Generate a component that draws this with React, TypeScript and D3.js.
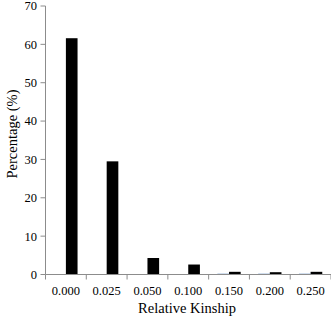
import React from "react";
import * as d3 from "d3";

const categories = ["0.000", "0.025", "0.050", "0.100", "0.150", "0.200", "0.250"];
const seriesBlue = [0, 0, 0, 0, 0.2, 0.2, 0.2];
const seriesBlack = [61.6, 29.5, 4.3, 2.6, 0.7, 0.6, 0.7];
const yTicks = [0, 10, 20, 30, 40, 50, 60, 70];

export default function App() {
  const W = 331, H = 319;
  const left = 45.5, right = 331, top = 6, bottom = 274.5;
  const x = d3.scaleBand<string>().domain(categories).range([left, right]).paddingInner(0).paddingOuter(0);
  const y = d3.scaleLinear().domain([0, 70]).range([bottom, top]);
  const bw = x.bandwidth() / 3.5;
  const axisColor = "#8c8c8c";
  const font = "'Liberation Serif', 'Times New Roman', serif";
  const tickEdges = [...categories.map((c) => x(c)!), right];
  return (
    <svg width={W} height={H} style={{ position: "absolute", left: 0, top: 0, background: "#fff" }}>
      {categories.map((c, i) => {
        const cx = x(c)! + x.bandwidth() / 2;
        return (
          <g key={c}>
            {seriesBlue[i] > 0 && (
              <rect x={cx - bw} y={y(seriesBlue[i])} width={bw} height={bottom - y(seriesBlue[i])} fill="#4f81bd" />
            )}
            <rect x={cx} y={y(seriesBlack[i])} width={bw} height={bottom - y(seriesBlack[i])} fill="#000" />
          </g>
        );
      })}
      <line x1={left} x2={left} y1={top} y2={bottom} stroke={axisColor} strokeWidth={1} />
      <line x1={left} x2={right} y1={bottom} y2={bottom} stroke={axisColor} strokeWidth={1} />
      {yTicks.map((t) => (
        <g key={t}>
          <line x1={left - 5} x2={left} y1={y(t)} y2={y(t)} stroke={axisColor} />
          <text x={37} y={y(t)} dy="0.35em" textAnchor="end" fontFamily={font} fontSize={12.5} fill="#000">
            {t}
          </text>
        </g>
      ))}
      {tickEdges.map((tx, i) => (
        <line key={i} x1={tx} x2={tx} y1={bottom} y2={bottom + 5} stroke={axisColor} />
      ))}
      {categories.map((c) => (
        <text key={c} x={x(c)! + x.bandwidth() / 2} y={295} textAnchor="middle" fontFamily={font} fontSize={12.5} fill="#000">
          {c}
        </text>
      ))}
      <text x={187} y={313} textAnchor="middle" fontFamily={font} fontSize={14.5} fill="#000">
        Relative Kinship
      </text>
      <text transform={`translate(17,134) rotate(-90)`} textAnchor="middle" fontFamily={font} fontSize={14.5} fill="#000">
        Percentage (%)
      </text>
    </svg>
  );
}
